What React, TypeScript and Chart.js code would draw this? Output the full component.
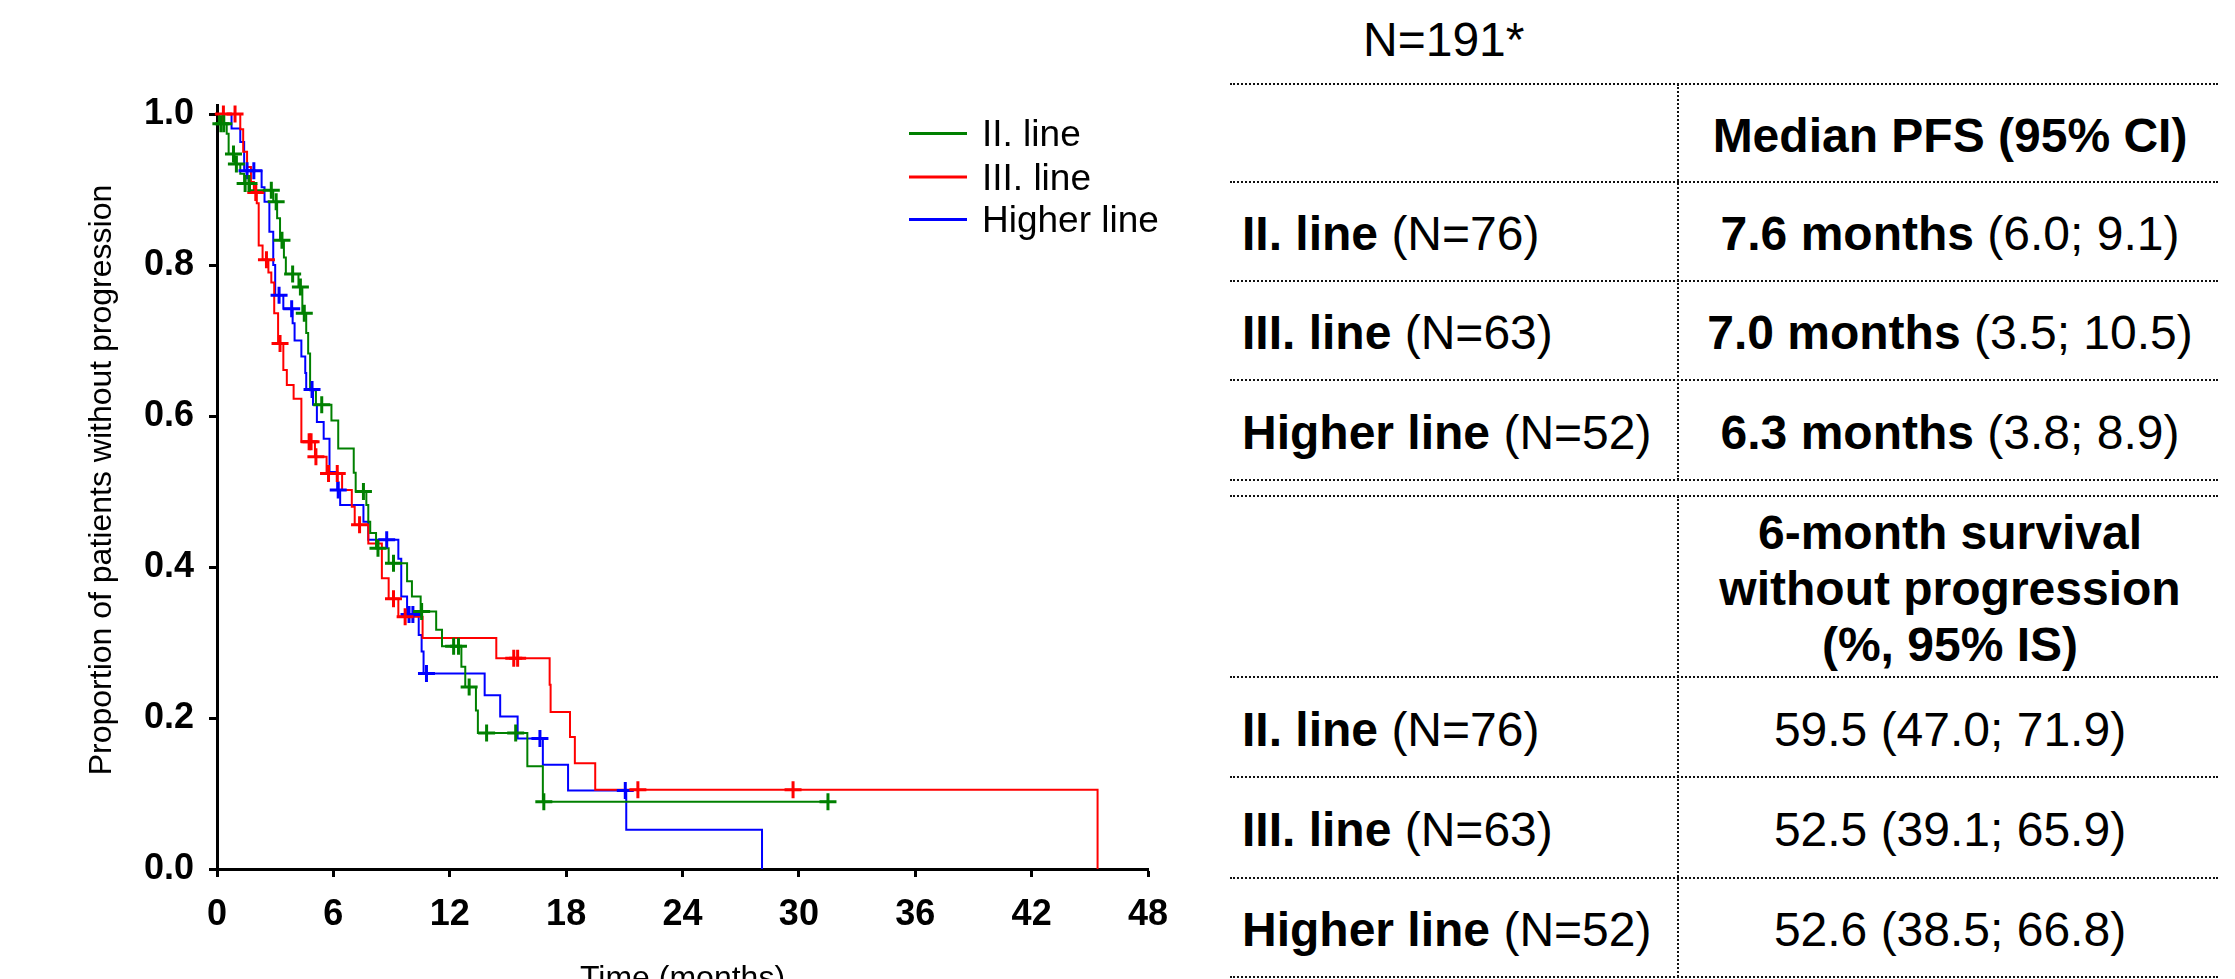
import React, { useEffect, useRef } from "react";
import { Chart, registerables } from "chart.js";

Chart.register(...registerables);

const FONT = "'Liberation Sans', Arial, Helvetica, sans-serif";

// ---------------- chart data ----------------
const X_TICKS = [0, 6, 12, 18, 24, 30, 36, 42, 48];
const Y_TICKS = [0, 0.2, 0.4, 0.6, 0.8, 1.0];
const X_TITLE = "Time (months)";
const Y_TITLE = "Proportion of patients without progression";
const SERIES_LABELS = ["II. line", "III. line", "Higher line"];
const SERIES_COLORS = ["#008000", "#ff0000", "#0000ff"];

// II. line: event times (months) and survival after each step
const line2Time = [0, 0.1, 0.5, 0.6, 0.9, 1.2, 1.4, 1.7, 2.9, 3.1, 3.25, 3.45, 3.55, 4.2, 4.4, 4.6, 4.7, 4.8, 5.1, 5.9, 6.25, 7.05, 7.15, 7.7, 7.8, 7.9, 8.2, 8.85, 9.8, 10.05, 10.5, 11.3, 11.6, 12.6, 12.8, 13.35, 13.45, 16.0, 16.8, 31.5];
const line2Surv = [1.0, 0.987, 0.974, 0.947, 0.934, 0.921, 0.908, 0.899, 0.884, 0.862, 0.833, 0.81, 0.788, 0.771, 0.736, 0.71, 0.683, 0.634, 0.615, 0.594, 0.557, 0.525, 0.5, 0.482, 0.46, 0.445, 0.425, 0.405, 0.381, 0.361, 0.341, 0.317, 0.295, 0.268, 0.241, 0.21, 0.18, 0.136, 0.089, 0.089];
const line2Censor = [0.2, 0.35, 0.85, 1.0, 1.45, 1.65, 2.8, 3.05, 3.35, 3.9, 4.3, 4.5, 5.4, 7.55, 8.3, 9.1, 10.55, 12.2, 12.45, 13.0, 13.9, 15.4, 16.85, 31.5];

// III. line
const line3Time = [0, 1.2, 1.35, 1.55, 1.75, 1.9, 2.05, 2.15, 2.35, 2.65, 2.8, 2.95, 3.15, 3.42, 3.6, 3.95, 4.35, 5.05, 5.65, 6.45, 6.95, 7.1, 7.8, 8.5, 8.85, 9.35, 10.6, 14.4, 17.15, 17.2, 18.2, 18.45, 19.5, 45.4];
const line3Surv = [1.0, 0.98, 0.95, 0.93, 0.91, 0.896, 0.882, 0.826, 0.807, 0.79, 0.777, 0.736, 0.696, 0.661, 0.641, 0.623, 0.566, 0.546, 0.524, 0.502, 0.48, 0.456, 0.431, 0.385, 0.358, 0.334, 0.306, 0.279, 0.244, 0.208, 0.175, 0.14, 0.105, 0.0];
const line3Censor = [0.33, 0.93, 2.0, 2.55, 3.25, 4.75, 4.85, 5.1, 5.75, 6.2, 7.35, 9.1, 9.7, 15.3, 15.5, 21.7, 29.7];

// Higher line
const lineHTime = [0, 0.75, 1.2, 1.4, 2.3, 2.45, 2.7, 2.9, 3.0, 3.42, 3.9, 4.0, 4.35, 4.55, 4.6, 4.95, 5.15, 5.5, 5.8, 6.2, 6.35, 7.55, 7.8, 9.35, 9.5, 9.8, 10.4, 10.55, 10.65, 13.8, 14.6, 15.5, 16.8, 18.1, 21.1, 28.1];
const lineHSurv = [1.0, 0.981, 0.963, 0.925, 0.903, 0.884, 0.844, 0.8, 0.76, 0.742, 0.723, 0.7, 0.679, 0.657, 0.635, 0.615, 0.592, 0.57, 0.526, 0.502, 0.482, 0.46, 0.436, 0.411, 0.361, 0.337, 0.31, 0.288, 0.259, 0.23, 0.202, 0.173, 0.138, 0.104, 0.052, 0.0];
const lineHCensor = [1.55, 1.9, 3.2, 3.85, 4.9, 6.25, 8.75, 9.9, 10.1, 10.8, 16.65, 21.05];

// ---------------- table data ----------------
const POP_LABEL = "N=191*";
const GROUP_NAMES = ["II. line", "III. line", "Higher line"];
const GROUP_N = ["(N=76)", "(N=63)", "(N=52)"];
const MEDIAN_HEADER = "Median PFS (95% CI)";
const MEDIAN_VALUES = ["7.6 months", "7.0 months", "6.3 months"];
const MEDIAN_CI = ["(6.0; 9.1)", "(3.5; 10.5)", "(3.8; 8.9)"];
const SURV6_HEADER = ["6-month survival", "without progression", "(%, 95% IS)"];
const SURV6_VALUES = ["59.5 (47.0; 71.9)", "52.5 (39.1; 65.9)", "52.6 (38.5; 66.8)"];

// ---------------- helpers ----------------
function stepPoints(times: number[], surv: number[]) {
  return times.map((t, i) => ({ x: t, y: surv[i] }));
}
function survAt(times: number[], surv: number[], t: number) {
  let s = 1;
  for (let i = 0; i < times.length; i++) if (times[i] <= t + 1e-9) s = surv[i];
  return s;
}

const SERIES = [
  { time: line2Time, surv: line2Surv, censor: line2Censor },
  { time: line3Time, surv: line3Surv, censor: line3Censor },
  { time: lineHTime, surv: lineHSurv, censor: lineHCensor },
];

const legendPlugin = {
  id: "kmLegend",
  afterDraw(chart: any) {
    const ctx = chart.ctx;
    const left = chart.chartArea.left;
    const ys = [133.5, 177, 219.5];
    ctx.save();
    ctx.font = `37px ${FONT}`;
    ctx.textBaseline = "middle";
    ctx.textAlign = "left";
    SERIES_LABELS.forEach((label, i) => {
      ctx.strokeStyle = SERIES_COLORS[i];
      ctx.lineWidth = 3;
      ctx.beginPath();
      ctx.moveTo(left + 692, ys[i]);
      ctx.lineTo(left + 750, ys[i]);
      ctx.stroke();
      ctx.fillStyle = "#000";
      ctx.fillText(label, left + 765, ys[i] + 2.5);
    });
    // y-axis title, rotated
    ctx.save();
    ctx.translate(102, 480);
    ctx.rotate(-Math.PI / 2);
    ctx.font = `32px ${FONT}`;
    ctx.textAlign = "center";
    ctx.textBaseline = "middle";
    ctx.fillStyle = "#000";
    ctx.fillText(Y_TITLE, 0, 0);
    ctx.restore();
    ctx.restore();
  },
};

function KMChart() {
  const ref = useRef<HTMLCanvasElement | null>(null);
  useEffect(() => {
    if (!ref.current) return;
    const datasets: any[] = [];
    SERIES.forEach((s, i) => {
      datasets.push({
        type: "line",
        label: SERIES_LABELS[i],
        data: stepPoints(s.time, s.surv),
        borderColor: SERIES_COLORS[i],
        backgroundColor: SERIES_COLORS[i],
        borderWidth: 2,
        stepped: "before",
        pointRadius: 0,
        pointHoverRadius: 0,
        fill: false,
        order: 2,
      });
    });
    SERIES.forEach((s, i) => {
      datasets.push({
        type: "line",
        label: SERIES_LABELS[i] + " censored",
        data: s.censor.map((t) => ({ x: t, y: survAt(s.time, s.surv, t) })),
        showLine: false,
        pointStyle: "cross",
        pointRadius: 8.5,
        pointHoverRadius: 8.5,
        pointBorderWidth: 3,
        pointBorderColor: SERIES_COLORS[i],
        pointBackgroundColor: SERIES_COLORS[i],
        borderColor: SERIES_COLORS[i],
        clip: false,
        order: 1,
      });
    });

    const axisCommon = {
      grid: {
        display: true,
        drawOnChartArea: false,
        drawTicks: true,
        tickLength: 8,
        tickWidth: 3,
        tickColor: "#000",
      },
      border: { display: true, color: "#000", width: 3 },
    };

    const chart = new Chart(ref.current, {
      type: "line",
      data: { datasets },
      plugins: [legendPlugin],
      options: {
        animation: false,
        responsive: false,
        maintainAspectRatio: false,
        events: [],
        layout: { padding: { left: 83, right: 52, top: 105, bottom: 0 } },
        plugins: {
          legend: { display: false },
          tooltip: { enabled: false },
        },
        scales: {
          x: {
            type: "linear",
            min: 0,
            max: 48,
            afterBuildTicks: (s: any) => {
              s.ticks = X_TICKS.map((v) => ({ value: v }));
            },
            afterFit: (s: any) => {
              s.height = 131;
            },
            ...axisCommon,
            ticks: {
              color: "#000",
              font: { family: FONT, size: 36, weight: "bold" },
              padding: 16,
              maxRotation: 0,
              autoSkip: false,
              callback: (v: any) => String(v),
            },
            title: {
              display: true,
              text: X_TITLE,
              color: "#000",
              font: { family: FONT, size: 32 },
              padding: { top: 0, bottom: 2 },
            },
          },
          y: {
            type: "linear",
            min: 0,
            max: 1.012,
            afterBuildTicks: (s: any) => {
              s.ticks = Y_TICKS.map((v) => ({ value: v }));
            },
            afterFit: (s: any) => {
              s.width = 134;
            },
            ...axisCommon,
            ticks: {
              color: "#000",
              font: { family: FONT, size: 36, weight: "bold" },
              padding: 15,
              autoSkip: false,
              callback: (v: any) => Number(v).toFixed(1),
            },
            title: { display: false },
          },
        },
      } as any,
    });
    return () => chart.destroy();
  }, []);
  return (
    <canvas
      ref={ref}
      width={1200}
      height={1000}
      style={{ position: "absolute", left: 0, top: 0, width: 1200, height: 1000 }}
    />
  );
}

// ---------------- table ----------------
const TABLE_LEFT = 1230;
const TABLE_RIGHT = 2218;
const TEXT_RIGHT = 2222;
const DIVIDER_X = 1678;
const H_LINES = [84, 182, 281, 380, 480, 496, 677, 777, 878, 977];
const BLOCK1_ROWS = [182, 281, 380, 480];
const BLOCK2_ROWS = [677, 777, 878, 977];
const TABLE_FONT = 48;

function HLine({ y }: { y: number }) {
  return (
    <div
      style={{
        position: "absolute",
        left: TABLE_LEFT,
        top: y - 1,
        width: TABLE_RIGHT - TABLE_LEFT,
        height: 0,
        borderTop: "2px dotted #111",
      }}
    />
  );
}
function VLine({ y1, y2 }: { y1: number; y2: number }) {
  return (
    <div
      style={{
        position: "absolute",
        left: DIVIDER_X - 1,
        top: y1,
        width: 0,
        height: y2 - y1,
        borderLeft: "2px dotted #111",
      }}
    />
  );
}
function Cell({ x1, x2, y1, y2, align, children }: any) {
  return (
    <div
      style={{
        position: "absolute",
        left: x1,
        top: y1,
        width: x2 - x1,
        height: y2 - y1,
        display: "flex",
        alignItems: "center",
        justifyContent: align === "center" ? "center" : "flex-start",
        boxSizing: "border-box",
        paddingTop: 5,
        fontFamily: FONT,
        fontSize: TABLE_FONT,
        lineHeight: 1,
        color: "#000",
        whiteSpace: "nowrap",
        textAlign: align === "center" ? "center" : "left",
      }}
    >
      {children}
    </div>
  );
}

function StatsTable() {
  const leftX1 = 1242;
  return (
    <>
      <div
        style={{
          position: "absolute",
          left: 1363,
          top: 16,
          height: 48,
          fontFamily: FONT,
          fontSize: TABLE_FONT,
          lineHeight: "48px",
          color: "#000",
          whiteSpace: "nowrap",
        }}
      >
        {POP_LABEL}
      </div>
      {H_LINES.map((y) => (
        <HLine key={y} y={y} />
      ))}
      <VLine y1={H_LINES[0]} y2={H_LINES[4]} />
      <VLine y1={H_LINES[5]} y2={H_LINES[9]} />

      <Cell x1={DIVIDER_X} x2={TEXT_RIGHT} y1={H_LINES[0]} y2={H_LINES[1]} align="center">
        <b>{MEDIAN_HEADER}</b>
      </Cell>
      {GROUP_NAMES.map((g, i) => (
        <React.Fragment key={"m" + i}>
          <Cell x1={leftX1} x2={DIVIDER_X} y1={BLOCK1_ROWS[i]} y2={BLOCK1_ROWS[i + 1]} align="left">
            <span>
              <b>{g}</b> {GROUP_N[i]}
            </span>
          </Cell>
          <Cell x1={DIVIDER_X} x2={TEXT_RIGHT} y1={BLOCK1_ROWS[i]} y2={BLOCK1_ROWS[i + 1]} align="center">
            <span>
              <b>{MEDIAN_VALUES[i]}</b> {MEDIAN_CI[i]}
            </span>
          </Cell>
        </React.Fragment>
      ))}

      <div
        style={{
          position: "absolute",
          left: DIVIDER_X,
          top: H_LINES[5],
          width: TEXT_RIGHT - DIVIDER_X,
          height: H_LINES[6] - H_LINES[5],
          display: "flex",
          flexDirection: "column",
          alignItems: "center",
          justifyContent: "center",
          boxSizing: "border-box",
          paddingTop: 4,
          fontFamily: FONT,
          fontSize: TABLE_FONT,
          fontWeight: "bold",
          lineHeight: "56px",
          color: "#000",
          textAlign: "center",
          whiteSpace: "nowrap",
        }}
      >
        {SURV6_HEADER.map((t) => (
          <div key={t}>{t}</div>
        ))}
      </div>
      {GROUP_NAMES.map((g, i) => (
        <React.Fragment key={"s" + i}>
          <Cell x1={leftX1} x2={DIVIDER_X} y1={BLOCK2_ROWS[i]} y2={BLOCK2_ROWS[i + 1]} align="left">
            <span>
              <b>{g}</b> {GROUP_N[i]}
            </span>
          </Cell>
          <Cell x1={DIVIDER_X} x2={TEXT_RIGHT} y1={BLOCK2_ROWS[i]} y2={BLOCK2_ROWS[i + 1]} align="center">
            <span>{SURV6_VALUES[i]}</span>
          </Cell>
        </React.Fragment>
      ))}
    </>
  );
}

export default function App() {
  return (
    <div
      style={{
        position: "fixed",
        left: 0,
        top: 0,
        width: 2235,
        height: 979,
        overflow: "hidden",
        background: "#fff",
      }}
    >
      <KMChart />
      <StatsTable />
    </div>
  );
}
